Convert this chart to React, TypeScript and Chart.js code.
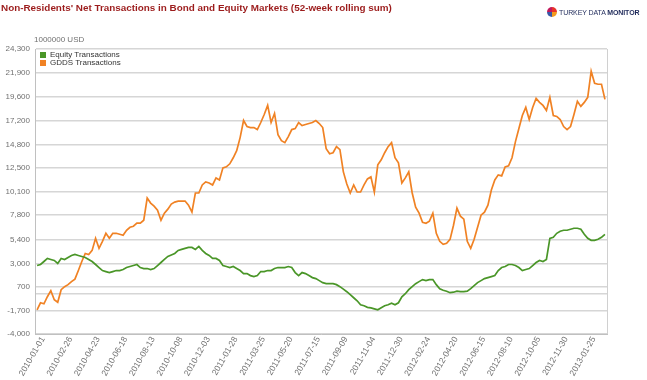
import React, { useEffect, useRef } from "react";
import { Chart, registerables } from "chart.js";

Chart.register(...registerables);

const FONT = "Arial, 'Liberation Sans', sans-serif";

const startDate = "2010-01-01";
const labelEvery = 8;

const equity = [
  2800, 2900, 3200, 3500, 3400, 3300, 3000, 3500, 3400, 3600,
  3800, 3900, 3800, 3700, 3600, 3400, 3200, 2900, 2600, 2300,
  2200, 2100, 2200, 2300, 2300, 2400, 2600, 2700, 2800, 2900,
  2600, 2500, 2500, 2400, 2500, 2800, 3100, 3400, 3700, 3850,
  4000, 4300, 4400, 4500, 4600, 4600, 4400, 4700, 4300, 4000,
  3800, 3500, 3500, 3300, 2800, 2700, 2600, 2700, 2500, 2300,
  2000, 2000, 1800, 1700, 1800, 2200, 2200, 2300, 2300, 2500,
  2600, 2600, 2600, 2700, 2600, 2100, 1800, 2100, 2000, 1800,
  1600, 1500, 1300, 1100, 1000, 1000, 1000, 900, 700, 450,
  200, -100, -400, -700, -1100, -1200, -1350, -1400, -1500, -1600,
  -1400, -1200, -1100, -950, -1100, -900, -300, 0, 400, 700,
  1000, 1200, 1400, 1300, 1400, 1400, 900, 500, 350, 250,
  100, 150, 250, 200, 200, 250, 500, 800, 1100, 1300,
  1500, 1600, 1700, 1800, 2300, 2600, 2700, 2900, 2900, 2800,
  2600, 2300, 2400, 2500, 2800, 3100, 3300, 3200, 3400, 5500,
  5600, 6000, 6200, 6300, 6300, 6400, 6500, 6500, 6400, 5900,
  5500, 5300, 5300, 5400, 5600, 5900,
];

const gdds = [
  -1600, -900, -1000, -300, 300, -600, -850, 400, 700, 900,
  1200, 1450, 2300, 3200, 4000, 3900, 4300, 5500, 4500, 5200,
  6000, 5500, 6000, 6000, 5900, 5800, 6300, 6600, 6700, 7000,
  7000, 7300, 9500, 9000, 8700, 8300, 7300, 8000, 8400, 8900,
  9100, 9200, 9200, 9200, 8800, 8100, 10000, 10000, 10800, 11100,
  11000, 10800, 11500, 11300, 12500, 12600, 12900, 13500, 14200, 15500,
  17200, 16600, 16500, 16500, 16300, 17000, 17800, 18700, 17000, 17900,
  15800, 15200, 15000, 15600, 16300, 16400, 17000, 16700, 16800, 16900,
  17000, 17200, 16900, 16500, 14400, 13900, 14000, 14600, 14300, 12100,
  10900, 10000, 10800, 10100, 10100, 10800, 11400, 11600, 10100, 12800,
  13300, 14000, 14600, 15000, 13500, 13000, 11000, 11500, 12100, 10000,
  8600, 8000, 7100, 7000, 7200, 8000, 6000, 5200, 4900, 5000,
  5400, 6800, 8500, 7700, 7400, 5200, 4500, 5400, 6600, 7800,
  8100, 8800, 10300, 11300, 11800, 11700, 12600, 12700, 13500, 15100,
  16400, 17700, 18500, 17300, 18500, 19400, 19000, 18700, 18200, 19500,
  17700, 17600, 17300, 16600, 16300, 16600, 17800, 19100, 18600, 19000,
  19500, 22100, 20900, 20800, 20800, 19300,
];

const yTickValues = [-4000, -1700, 700, 3000, 5400, 7800, 10100, 12500, 14800, 17200, 19600, 21900, 24300];
const zeroLine = 0;

function weeklyDates(start: string, n: number): string[] {
  const out: string[] = [];
  const t0 = Date.parse(start + "T00:00:00Z");
  for (let i = 0; i < n; i++) {
    const d = new Date(t0 + i * 7 * 86400000);
    out.push(d.toISOString().slice(0, 10));
  }
  return out;
}

const dates = weeklyDates(startDate, equity.length);

const borderPlugin = {
  id: "rightBorder",
  afterDraw(chart: any) {
    const { ctx, chartArea } = chart;
    ctx.save();
    ctx.strokeStyle = "#d0d0d0";
    ctx.lineWidth = 1;
    ctx.beginPath();
    ctx.moveTo(Math.round(chartArea.right) + 0.5, chartArea.top);
    ctx.lineTo(Math.round(chartArea.right) + 0.5, chartArea.bottom);
    ctx.stroke();
    ctx.restore();
  },
};

export default function App() {
  const ref = useRef<HTMLCanvasElement | null>(null);

  useEffect(() => {
    if (!ref.current) return;
    const chart = new Chart(ref.current, {
      type: "line",
      data: {
        datasets: [
          {
            label: "Equity Transactions",
            data: equity.map((v, i) => ({ x: i, y: v })),
            borderColor: "#4a9628",
            borderWidth: 1.7,
            pointRadius: 0,
            tension: 0,
            fill: false,
          },
          {
            label: "GDDS Transactions",
            data: gdds.map((v, i) => ({ x: i, y: v })),
            borderColor: "#f08224",
            borderWidth: 1.7,
            pointRadius: 0,
            tension: 0,
            fill: false,
          },
        ],
      },
      options: {
        animation: false,
        responsive: false,
        maintainAspectRatio: false,
        layout: { padding: { top: 49, right: 40, left: 0, bottom: 0 } },
        plugins: { legend: { display: false }, tooltip: { enabled: false } },
        scales: {
          x: {
            type: "linear",
            min: -0.6,
            max: dates.length - 1 + 0.6,
            grid: { display: false, drawTicks: false },
            border: { display: true, color: "#c0c0c0" },
            afterBuildTicks: (s: any) => {
              s.ticks = dates
                .map((_, i) => i)
                .filter((i) => i % labelEvery === 0)
                .map((i) => ({ value: i }));
            },
            afterFit: (s: any) => {
              s.height = 46;
            },
            ticks: {
              autoSkip: false,
              maxRotation: 60,
              minRotation: 60,
              padding: 1,
              labelOffset: 6,
              color: "#707070",
              font: { size: 8.5, family: FONT },
              callback: (v: any) => dates[v as number] ?? "",
            },
          },
          y: {
            min: -4000,
            max: 24300,
            afterBuildTicks: (s: any) => {
              s.ticks = [...yTickValues, zeroLine].sort((a, b) => a - b).map((v) => ({ value: v }));
            },
            afterFit: (s: any) => {
              s.width = 35;
            },
            grid: { color: "#d6d6d6", lineWidth: 1.5, drawTicks: false },
            border: { display: true, color: "#c0c0c0" },
            ticks: {
              padding: 5,
              color: "#707070",
              font: { size: 8, family: FONT },
              callback: (v: any) => (v === 0 ? "" : Number(v).toLocaleString("en-US")),
            },
          },
        },
      },
      plugins: [borderPlugin],
    });
    return () => chart.destroy();
  }, []);

  return (
    <div style={{ position: "absolute", left: 0, top: 0, width: 647, height: 380, background: "#fff", fontFamily: FONT }}>
      <canvas ref={ref} width={647} height={380} style={{ position: "absolute", left: 0, top: 0 }} />
      <div
        style={{
          position: "absolute",
          left: 1,
          top: 2,
          fontSize: 9.9,
          fontWeight: "bold",
          color: "#9c1c1c",
          whiteSpace: "nowrap",
        }}
      >
        Non-Residents' Net Transactions in Bond and Equity Markets (52-week rolling sum)
      </div>
      <div style={{ position: "absolute", left: 547, top: 7, display: "flex", alignItems: "center", whiteSpace: "nowrap" }}>
        <div
          style={{
            width: 10,
            height: 10,
            borderRadius: "50%",
            background: "conic-gradient(#e8332a 0deg 90deg, #f39a1e 90deg 180deg, #3a57a7 180deg 270deg, #c2185b 270deg 360deg)",
            marginRight: 2,
          }}
        />
        <span style={{ fontSize: 7, color: "#1f2a5a", letterSpacing: -0.1 }}>
          TURKEY DATA <b>MONITOR</b>
        </span>
      </div>
      <div style={{ position: "absolute", left: 34, top: 35, fontSize: 8, color: "#707070", whiteSpace: "nowrap" }}>
        1000000 USD
      </div>
      <div style={{ position: "absolute", left: 40, top: 51, fontSize: 8, color: "#333", lineHeight: "8px" }}>
        <div style={{ display: "flex", alignItems: "center", height: 8 }}>
          <span style={{ width: 6, height: 6, background: "#4a9628", display: "inline-block", marginRight: 4 }} />
          Equity Transactions
        </div>
        <div style={{ display: "flex", alignItems: "center", height: 8 }}>
          <span style={{ width: 6, height: 6, background: "#f08224", display: "inline-block", marginRight: 4 }} />
          GDDS Transactions
        </div>
      </div>
    </div>
  );
}
